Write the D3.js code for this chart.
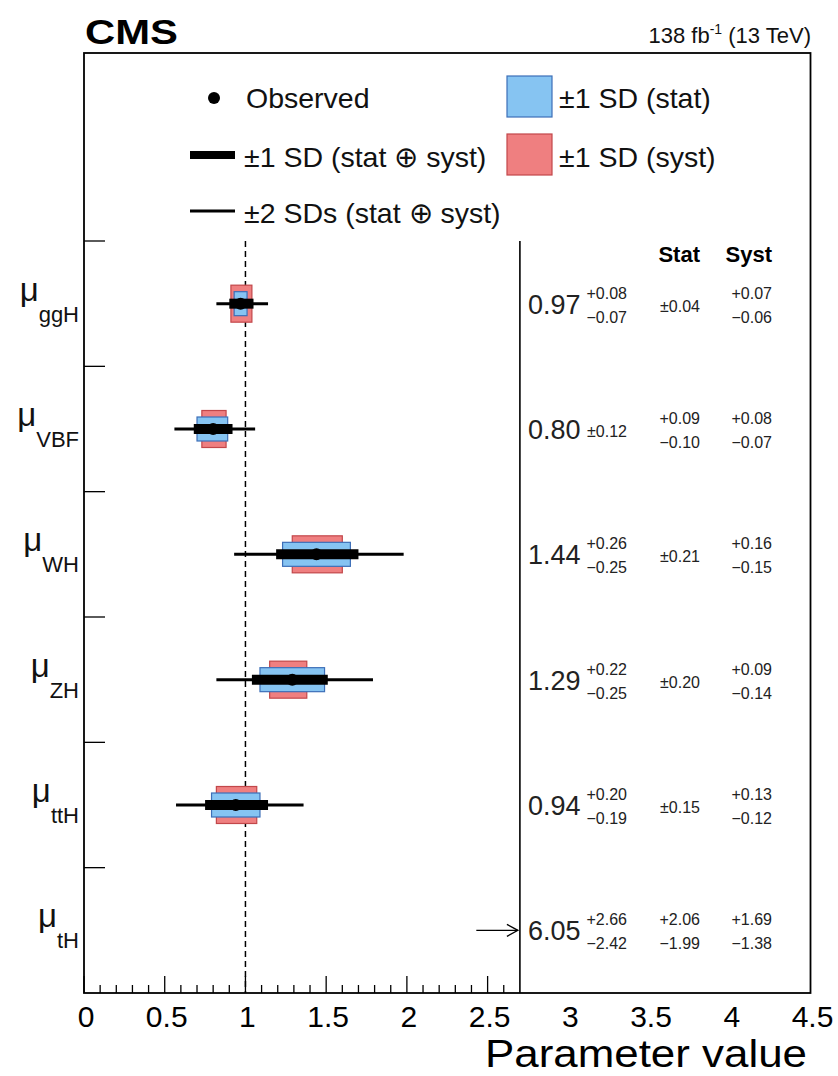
<!DOCTYPE html>
<html>
<head>
<meta charset="utf-8">
<script src="https://cdn.jsdelivr.net/npm/d3@7"></script>
<style>
  html, body { margin: 0; padding: 0; background: #fff; }
  svg { display: block; font-family: "Liberation Sans", Arial, sans-serif; }
</style>
</head>
<body>
<svg id="chart" width="838" height="1076"></svg>
<script>
// Signal-strength modifiers per production mode (best fit and uncertainties)
const processes = ["ggH", "VBF", "WH", "ZH", "ttH", "tH"];
const bestFit   = [0.97, 0.80, 1.44, 1.29, 0.94, 6.05];
const totUp     = [0.08, 0.12, 0.26, 0.22, 0.20, 2.66];
const totDown   = [0.07, 0.12, 0.25, 0.25, 0.19, 2.42];
const statUp    = [0.04, 0.09, 0.21, 0.20, 0.15, 2.06];
const statDown  = [0.04, 0.10, 0.21, 0.20, 0.15, 1.99];
const systUp    = [0.07, 0.08, 0.16, 0.09, 0.13, 1.69];
const systDown  = [0.06, 0.07, 0.15, 0.14, 0.12, 1.38];
// +-2 SD (stat + syst) interval ends
const twoSdLow  = [0.82, 0.56, 0.93, 0.82, 0.57, null];
const twoSdHigh = [1.14, 1.06, 1.98, 1.79, 1.36, null];

const xTickLabels = [0, 0.5, 1, 1.5, 2, 2.5, 3, 3.5, 4, 4.5];
const xPlotMax = 2.7;   // plotted range ends here, the rest holds the numbers
const smRef = 1;        // SM expectation

const svg = d3.select("#chart");
const frame = { left: 84, right: 810.5, top: 53, bottom: 993 };

const x = d3.scaleLinear().domain([0, 4.5]).range([frame.left, frame.right]);
const y = d3.scaleLinear().domain([0, 7.5]).range([frame.bottom, frame.top]);
const rowY = i => y(processes.length - 0.5 - i);

const blueFill = "#86c4f2", blueLine = "#3d6fb8";
const redFill = "#ef7f80", redLine = "#c2474a";
const fmt = v => v.toFixed(2);
const minus = "\u2212";

// Frame
svg.append("rect")
  .attr("x", frame.left).attr("y", frame.top)
  .attr("width", frame.right - frame.left).attr("height", frame.bottom - frame.top)
  .attr("fill", "none").attr("stroke", "#000").attr("stroke-width", 1.8);

// Upper edge of the result area
const plotTop = y(processes.length);

// Separator between the plot and the numerical column
svg.append("line")
  .attr("x1", x(xPlotMax)).attr("x2", x(xPlotMax))
  .attr("y1", plotTop).attr("y2", frame.bottom)
  .attr("stroke", "#000").attr("stroke-width", 1.6);

// SM reference line
svg.append("line")
  .attr("x1", x(smRef)).attr("x2", x(smRef))
  .attr("y1", plotTop).attr("y2", frame.bottom)
  .attr("stroke", "#000").attr("stroke-width", 1.5)
  .attr("stroke-dasharray", "6,4");

// X axis ticks (only across the plotted range)
const minorTicks = d3.range(0, 27).map(d => d / 10);
svg.append("g").selectAll("line").data(minorTicks).join("line")
  .attr("x1", d => x(d)).attr("x2", d => x(d))
  .attr("y1", frame.bottom)
  .attr("y2", d => frame.bottom - (Math.abs(d * 2 - Math.round(d * 2)) < 1e-6 ? 17 : 8))
  .attr("stroke", "#000").attr("stroke-width", 1.3);

svg.append("g").selectAll("text").data(xTickLabels).join("text")
  .attr("x", d => x(d) + 2).attr("y", 1027)
  .attr("text-anchor", "middle")
  .attr("font-size", 30)
  .text(d => d);

svg.append("text")
  .attr("x", 807).attr("y", 1067)
  .attr("text-anchor", "end")
  .attr("font-size", 38)
  .attr("textLength", 322).attr("lengthAdjust", "spacingAndGlyphs")
  .text("Parameter value");

// Y axis ticks between categories
svg.append("g").selectAll("line").data(d3.range(1, processes.length + 1)).join("line")
  .attr("x1", frame.left).attr("x2", frame.left + 21)
  .attr("y1", d => y(d)).attr("y2", d => y(d))
  .attr("stroke", "#000").attr("stroke-width", 1.3);

// Y axis labels
const ylab = svg.append("g").selectAll("text").data(processes).join("text")
  .attr("x", 79).attr("y", (d, i) => rowY(i) - 3)
  .attr("text-anchor", "end")
  .attr("fill", "#111");
ylab.append("tspan").attr("font-size", 33).text("\u03bc");
ylab.append("tspan").attr("font-size", 22).attr("dy", 21).text(d => d);

// Result markers
const marks = svg.append("g");
processes.forEach((p, i) => {
  const cy = rowY(i);
  const c = bestFit[i];
  if (c > xPlotMax) {
    // best fit outside the plotted range: arrow towards it
    const x0 = x(xPlotMax - 0.27), x1 = x(xPlotMax) - 2;
    marks.append("line").attr("x1", x0).attr("x2", x1).attr("y1", cy).attr("y2", cy)
      .attr("stroke", "#000").attr("stroke-width", 1.3);
    marks.append("path")
      .attr("d", `M${x1 - 11},${cy - 6} L${x1},${cy} L${x1 - 11},${cy + 6}`)
      .attr("fill", "none").attr("stroke", "#000").attr("stroke-width", 1.3);
    return;
  }
  // syst box
  marks.append("rect")
    .attr("x", x(c - systDown[i])).attr("width", x(c + systUp[i]) - x(c - systDown[i]))
    .attr("y", cy - 18.5).attr("height", 37)
    .attr("fill", redFill).attr("stroke", redLine).attr("stroke-width", 1.2);
  // stat box
  marks.append("rect")
    .attr("x", x(c - statDown[i])).attr("width", x(c + statUp[i]) - x(c - statDown[i]))
    .attr("y", cy - 12).attr("height", 24)
    .attr("fill", blueFill).attr("stroke", blueLine).attr("stroke-width", 1.2);
  // +-2 SD line
  marks.append("line")
    .attr("x1", x(twoSdLow[i])).attr("x2", x(twoSdHigh[i]))
    .attr("y1", cy).attr("y2", cy)
    .attr("stroke", "#000").attr("stroke-width", 3);
  // +-1 SD line
  marks.append("line")
    .attr("x1", x(c - totDown[i])).attr("x2", x(c + totUp[i]))
    .attr("y1", cy).attr("y2", cy)
    .attr("stroke", "#000").attr("stroke-width", 10);
  // best fit
  marks.append("circle").attr("cx", x(c)).attr("cy", cy).attr("r", 6).attr("fill", "#000");
});

// Numerical column
const colMain = 528, colSup = 627, colStat = 700, colSyst = 772;
svg.append("text").attr("x", colStat).attr("y", 262).attr("text-anchor", "end")
  .attr("font-size", 22).attr("font-weight", "bold").text("Stat");
svg.append("text").attr("x", colSyst).attr("y", 262).attr("text-anchor", "end")
  .attr("font-size", 22).attr("font-weight", "bold").text("Syst");

function upDown(g, xEnd, cy, up, down, size) {
  if (fmt(up) === fmt(down)) {
    g.append("text").attr("x", xEnd).attr("y", cy + 8).attr("text-anchor", "end")
      .attr("font-size", size).text("\u00b1" + fmt(up));
  } else {
    g.append("text").attr("x", xEnd).attr("y", cy - 5).attr("text-anchor", "end")
      .attr("font-size", size).text("+" + fmt(up));
    g.append("text").attr("x", xEnd).attr("y", cy + 19).attr("text-anchor", "end")
      .attr("font-size", size).text(minus + fmt(down));
  }
}

const numbers = svg.append("g").attr("fill", "#222");
processes.forEach((p, i) => {
  const cy = rowY(i);
  numbers.append("text").attr("x", colMain).attr("y", cy + 10)
    .attr("font-size", 27).text(fmt(bestFit[i]));
  upDown(numbers, colSup, cy, totUp[i], totDown[i], 16);
  upDown(numbers, colStat, cy, statUp[i], statDown[i], 16);
  upDown(numbers, colSyst, cy, systUp[i], systDown[i], 16);
});

// Legend
const leg = svg.append("g");
const legText = (tx, ty, s) => leg.append("text").attr("x", tx).attr("y", ty)
  .attr("font-size", 28.5).attr("fill", "#111").text(s);
leg.append("circle").attr("cx", 214).attr("cy", 98).attr("r", 6).attr("fill", "#000");
legText(246, 108, "Observed");
leg.append("line").attr("x1", 190).attr("x2", 235).attr("y1", 155).attr("y2", 155)
  .attr("stroke", "#000").attr("stroke-width", 8);
legText(244, 167, "\u00b11 SD (stat \u2295 syst)");
leg.append("line").attr("x1", 190).attr("x2", 235).attr("y1", 211).attr("y2", 211)
  .attr("stroke", "#000").attr("stroke-width", 3);
legText(244, 223, "\u00b12 SDs (stat \u2295 syst)");
leg.append("rect").attr("x", 507).attr("y", 76).attr("width", 45).attr("height", 41)
  .attr("fill", blueFill).attr("stroke", blueLine).attr("stroke-width", 1.2);
legText(559, 108, "\u00b11 SD (stat)");
leg.append("rect").attr("x", 507).attr("y", 134).attr("width", 45).attr("height", 41)
  .attr("fill", redFill).attr("stroke", redLine).attr("stroke-width", 1.2);
legText(559, 167, "\u00b11 SD (syst)");

// Header
svg.append("text").attr("x", 85).attr("y", 44)
  .attr("font-size", 35).attr("font-weight", "bold")
  .attr("textLength", 93).attr("lengthAdjust", "spacingAndGlyphs")
  .text("CMS");
const lumi = svg.append("text").attr("x", 811).attr("y", 43)
  .attr("text-anchor", "end").attr("font-size", 22).attr("fill", "#111");
lumi.append("tspan").text("138 fb");
lumi.append("tspan").attr("font-size", 14).attr("dy", -9).text("-1");
lumi.append("tspan").attr("dy", 9).text(" (13 TeV)");
</script>
</body>
</html>
